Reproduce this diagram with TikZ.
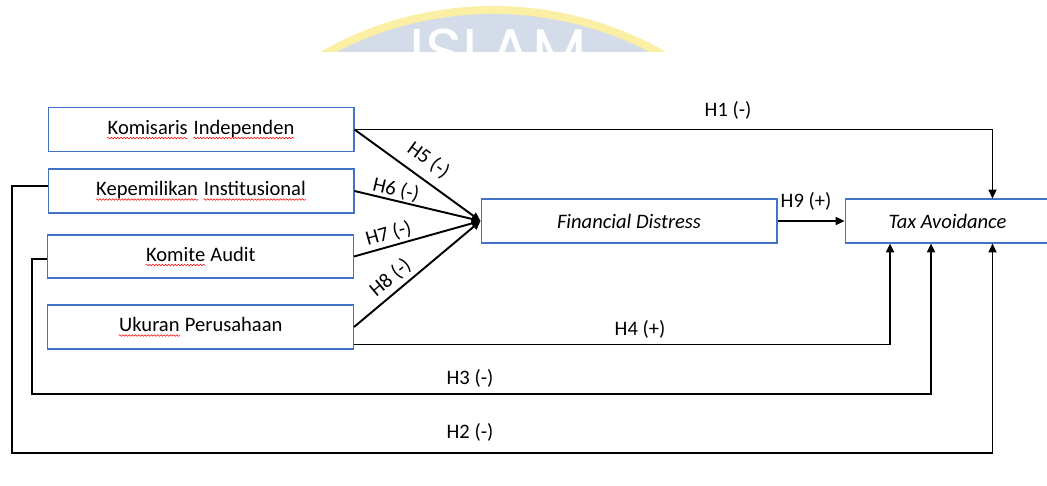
\documentclass[tikz,border=0pt]{standalone}
\usepackage{fontspec}
\setmainfont{Carlito}
\newfontfamily\logofont{Poppins}
\usetikzlibrary{arrows.meta,decorations.pathmorphing}
\definecolor{boxblue}{HTML}{4472C4}
\definecolor{logoyellow}{HTML}{FBEFA6}
\definecolor{logoblue}{HTML}{D4DCE9}
\newcommand\redwave[1]{\tikz[baseline=(w.base), x=1cm, y=1cm]{\node[draw=none,
    inner sep=0pt, minimum width=0pt, minimum height=0pt] (w) {#1};
  \draw[draw=red, -, line width=0.3pt, decorate, decoration={snake, amplitude=0.45pt,
    segment length=1.8pt}] ([yshift=-2.2pt]w.base west) -- ([yshift=-2.2pt]w.base east);}}
\begin{document}
\begin{tikzpicture}[x=0.02cm, y=-0.02cm,
  every node/.style={font=\fontsize{11.7}{14}\selectfont},
  box/.style={draw=boxblue, line width=0.6pt, minimum width=6.12cm,
    minimum height=0.88cm, inner sep=0pt},
  link/.style={draw, line width=1.1pt, -{Triangle[length=5pt,width=4.5pt]}},
  lbl/.style={inner sep=2pt}]
 \useasboundingbox (0,0) rectangle (1047,486);
 % watermark
 \begin{scope}
  \clip (300,0) rectangle (700,52);
  \fill[logoyellow] (493,354) circle (348);
  \fill[logoblue] (493,354) circle (340);
  \node[white, font=\logofont\fontsize{36}{36}\selectfont, inner sep=0pt,
    anchor=north] (logo) at (498,28) {ISLAM};
 \end{scope}
 % variables
 \node[box] (komisaris) at (201,129.5) {\redwave{Komisaris} \redwave{Independen}};
 \node[box] (kepemilikan) at (201,191) {\redwave{Kepemilikan} \redwave{Institusional}};
 \node[box, minimum height=0.86cm] (komite) at (200.5,256.5) {\redwave{Komite} Audit};
 \node[box] (ukuran) at (200.5,327) {\redwave{Ukuran} Perusahaan};
 \node[box, minimum width=5.92cm] (distress) at (629,221) {\textit{Financial Distress}};
 \node[box, minimum width=4.1cm] (tax) at (947.5,221) {\textit{Tax Avoidance}};
 % hypotheses
 \draw[link] (komisaris.east) -- (distress.west)
   node[lbl, sloped, above, pos=.5, inner sep=5pt] {H5 (-)};
 \draw[link] (kepemilikan.east) -- (distress.west)
   node[lbl, sloped, above, pos=.31, inner sep=0.5pt] {H6 (-)};
 \draw[link] (komite.east) -- (distress.west)
   node[lbl, sloped, above, pos=.3, inner sep=1.5pt] {H7 (-)};
 \draw[link] (ukuran.east) -- (distress.west)
   node[lbl, sloped, above, pos=.36, inner sep=2.5pt] {H8 (-)};
 \draw[link] (distress.east) -- (tax.west);
 \draw[link] (komisaris.east) -| ([xshift=0.9cm]tax.north);
 \draw[link] ([yshift=0.1cm]ukuran.south east) -| ([xshift=-1.15cm]tax.south);
 \draw[link] ([yshift=-0.05cm]komite.west) -| (32,394) -| ([xshift=-0.33cm]tax.south);
 \draw[link] ([yshift=0.1cm]kepemilikan.west) -| (12,453) -| ([xshift=0.9cm]tax.south);
 \node[lbl] (h1) at (728,110) {H1 (-)};
 \node[lbl] (h9) at (806,201) {H9 (+)};
 \node[lbl] (h4) at (640,329) {H4 (+)};
 \node[lbl] (h3) at (470,378) {H3 (-)};
 \node[lbl] (h2) at (470,432) {H2 (-)};
\end{tikzpicture}
\end{document}
